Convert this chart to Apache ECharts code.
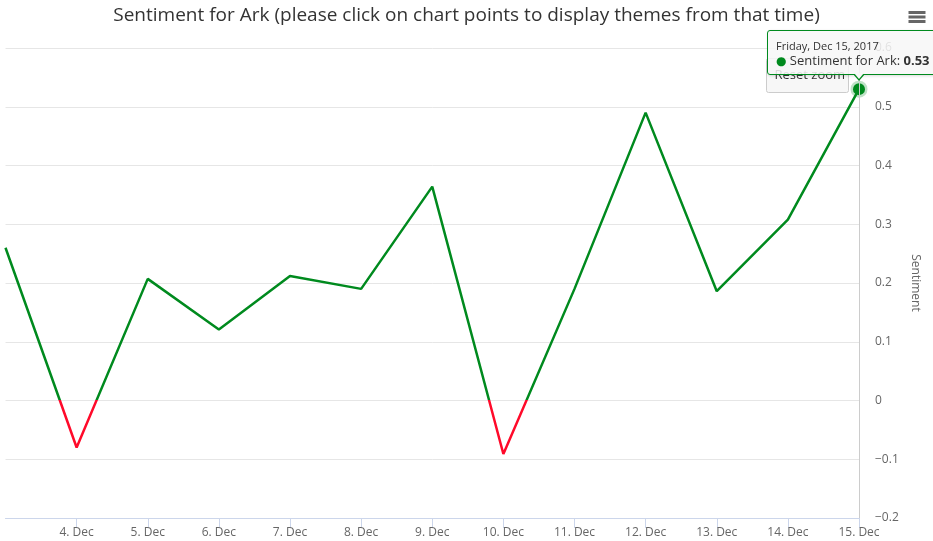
<!DOCTYPE html>
<html>
<head>
<meta charset="utf-8">
<title>Sentiment for Ark</title>
<script src="https://cdn.jsdelivr.net/npm/echarts@6/dist/echarts.min.js"></script>
<style>
  html, body { margin: 0; padding: 0; background: #fff; overflow: hidden; }
  #chart { width: 933px; height: 541px; overflow: hidden; position: relative; }
</style>
</head>
<body>
<div id="chart"></div>
<script>
// Daily sentiment, 3 Dec – 15 Dec 2017
const year = 2017;
const monthIndex = 11;
const days = [3, 4, 5, 6, 7, 8, 9, 10, 11, 12, 13, 14, 15];
const sentiment = [0.26, -0.08, 0.207, 0.121, 0.212, 0.19, 0.364, -0.091, 0.19, 0.49, 0.186, 0.308, 0.53];
const yTicks = { min: -0.2, max: 0.6, step: 0.1 };
const seriesName = 'Sentiment for Ark';
const titleText = 'Sentiment for Ark (please click on chart points to display themes from that time)';

const FONT = '"Open Sans", "DejaVu Sans", sans-serif';
const GREEN = '#008a1e';
const RED = '#ff0a2a';

const monthNames = ['Jan', 'Feb', 'Mar', 'Apr', 'May', 'Jun', 'Jul', 'Aug', 'Sep', 'Oct', 'Nov', 'Dec'];
const weekdayNames = ['Sunday', 'Monday', 'Tuesday', 'Wednesday', 'Thursday', 'Friday', 'Saturday'];
const categories = days.map(d => d + '. ' + monthNames[monthIndex]);

function fullDate(i) {
  const dt = new Date(year, monthIndex, days[i]);
  return weekdayNames[dt.getDay()] + ', ' + monthNames[monthIndex] + ' ' + days[i] + ', ' + year;
}

// tooltip box sits above the hovered point, offset to the left; arrow points down at the point
const TIP_OFFSET_X = 92;
const TIP_OFFSET_Y = 59;

const lastIndex = sentiment.length - 1;
const chart = echarts.init(document.getElementById('chart'), null, { renderer: 'canvas' });

chart.setOption({
  animation: false,
  textStyle: { fontFamily: FONT },
  title: {
    text: titleText,
    left: 'center',
    top: 1,
    textStyle: { fontFamily: FONT, fontSize: 19, fontWeight: 'normal', color: '#333333' }
  },
  grid: { left: 5.5, right: 74, top: 48, bottom: 23, containLabel: false },
  xAxis: {
    type: 'category',
    data: categories,
    boundaryGap: false,
    axisLine: { onZero: false, lineStyle: { color: '#ccd6eb', width: 1 } },
    axisTick: {
      show: true,
      length: 10,
      lineStyle: { color: '#ccd6eb' },
      interval: (i) => i > 0
    },
    axisLabel: {
      color: '#666666',
      fontSize: 12,
      margin: 9,
      fontFamily: FONT,
      interval: (i) => i > 0
    },
    splitLine: { show: false },
    axisPointer: {
      show: true,
      type: 'line',
      label: { show: false },
      lineStyle: { color: '#cccccc', width: 1, type: 'solid' }
    }
  },
  yAxis: {
    type: 'value',
    position: 'right',
    min: yTicks.min,
    max: yTicks.max,
    interval: yTicks.step,
    name: 'Sentiment',
    nameLocation: 'middle',
    nameRotate: -90,
    nameGap: 46,
    nameTextStyle: { color: '#666666', fontSize: 12, fontFamily: FONT },
    axisLine: { show: false },
    axisTick: { show: false },
    axisLabel: {
      color: '#666666',
      fontSize: 12,
      margin: 16,
      fontFamily: FONT,
      formatter: (v) => (Math.round(v * 10) / 10).toString().replace('-', '−')
    },
    splitLine: { lineStyle: { color: '#e6e6e6', width: 1 } }
  },
  visualMap: {
    show: false,
    type: 'piecewise',
    dimension: 1,
    seriesIndex: 0,
    pieces: [
      { gt: -1, lte: 0, color: RED },
      { gt: 0, lte: 1, color: GREEN }
    ]
  },
  tooltip: {
    trigger: 'axis',
    alwaysShowContent: true,
    triggerOn: 'none',
    confine: false,
    position: (pt) => [pt[0] - TIP_OFFSET_X, pt[1] - TIP_OFFSET_Y],
    backgroundColor: 'rgba(247,247,247,0.85)',
    borderColor: GREEN,
    borderWidth: 1,
    borderRadius: 3,
    padding: [7, 8, 6, 8],
    extraCssText: 'box-shadow: 1px 1px 3px rgba(0,0,0,0.15); overflow: visible; white-space: nowrap;',
    textStyle: { color: '#333333', fontSize: 13, fontFamily: FONT },
    formatter: (params) => {
      const p = Array.isArray(params) ? params[0] : params;
      const i = p.dataIndex;
      const arrowLeft = TIP_OFFSET_X - 7;
      return '<div style="line-height:15px"><span style="font-size:11px">' + fullDate(i) + '</span><br/>' +
        '<span style="color:' + GREEN + ';font-size:12px">\u25CF</span> ' + seriesName + ': <b>' + sentiment[i].toFixed(2) + '</b></div>' +
        '<div style="position:absolute;left:' + arrowLeft + 'px;bottom:-7px;width:0;height:0;' +
        'border-left:6px solid transparent;border-right:6px solid transparent;border-top:7px solid ' + GREEN + ';"></div>' +
        '<div style="position:absolute;left:' + (arrowLeft + 1) + 'px;bottom:-5px;width:0;height:0;' +
        'border-left:5px solid transparent;border-right:5px solid transparent;border-top:6px solid #f7f7f7;"></div>';
    }
  },
  graphic: [
    // Reset zoom button
    {
      type: 'group',
      left: 766,
      top: 58,
      z: 1,
      children: [
        {
          type: 'rect',
          shape: { x: 0, y: 0, width: 82, height: 34, r: 2 },
          style: { fill: '#f7f7f7', stroke: '#cccccc', lineWidth: 1 }
        },
        {
          type: 'text',
          x: 8,
          y: 17,
          style: { text: 'Reset zoom', fill: '#333333', fontSize: 13, fontFamily: FONT, verticalAlign: 'middle' }
        }
      ]
    },
    // Context menu button
    {
      type: 'group',
      left: 906,
      top: 10,
      children: [0, 4.5, 9].map(dy => ({
        type: 'line',
        shape: { x1: 0, y1: dy + 1.5, x2: 17, y2: dy + 1.5 },
        style: { stroke: '#666666', lineWidth: 3 }
      }))
    }
  ],
  series: [{
    name: seriesName,
    type: 'line',
    data: sentiment,
    showSymbol: false,
    symbol: 'circle',
    lineStyle: { width: 2.5 },
    emphasis: { disabled: true },
    markPoint: {
      symbol: 'circle',
      symbolSize: 12,
      silent: true,
      label: { show: false },
      itemStyle: { color: GREEN, borderColor: 'rgba(0,138,30,0.25)', borderWidth: 5 },
      data: [{ coord: [lastIndex, sentiment[lastIndex]] }]
    }
  }]
});

chart.dispatchAction({ type: 'showTip', seriesIndex: 0, dataIndex: lastIndex });
</script>
</body>
</html>
